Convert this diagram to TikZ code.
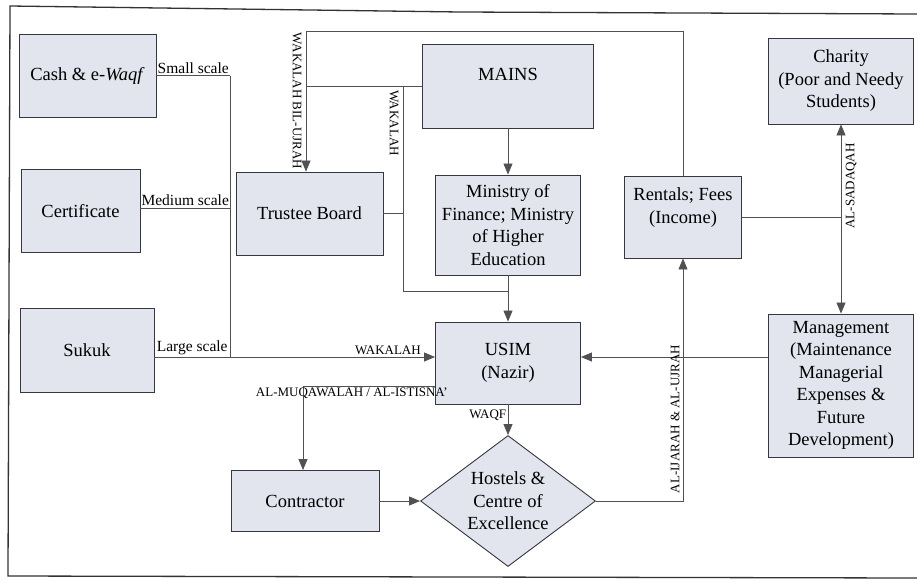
\documentclass[tikz,border=0pt]{standalone}
\usepackage{fontspec}
\setmainfont{LiberationSerif}[Extension=.ttf, UprightFont=*-Regular, ItalicFont=*-Italic, BoldFont=*-Bold, BoldItalicFont=*-BoldItalic]
\usetikzlibrary{arrows.meta,shapes.geometric}
\definecolor{boxfill}{RGB}{226,228,238}
\definecolor{boxline}{RGB}{55,55,65}
\definecolor{wirec}{RGB}{80,80,85}
\newcommand\bxfont{\rmfamily\fontsize{18.5}{22.5}\selectfont}
\newcommand\sclfont{\rmfamily\fontsize{15.5}{17}\selectfont}
\newcommand\lbfont{\rmfamily\fontsize{13}{14}\selectfont}
\begin{document}
\begin{tikzpicture}[x=1pt,y=-1pt,
  box/.style={draw=boxline, fill=boxfill, line width=0.9pt, font=\bxfont, align=center, inner sep=0pt},
  wire/.style={draw=wirec, line width=0.8pt},
  arr/.style={wire, -{Triangle[length=11pt,width=9pt]}},
  darr/.style={wire, {Triangle[length=11pt,width=9pt]}-{Triangle[length=11pt,width=9pt]}},
  lbl/.style={font=\lbfont, inner sep=1.5pt},
  scl/.style={font=\sclfont, inner sep=1.5pt}]
\useasboundingbox (0,0) rectangle (917,581);
% frame
\draw[line width=1.3pt, draw=black!80] (917,14) -- (460,12) -- (10,6) -- (8,576) -- (917,578);

% boxes
\node[box, minimum width=137pt, minimum height=83pt] (cash) at (87.5,75.5) {Cash \& e-\textit{Waqf}};
\node[box, minimum width=119pt, minimum height=83pt] (cert) at (80.5,211) {Certificate};
\node[box, minimum width=134pt, minimum height=84pt] (sukuk) at (87,350) {Sukuk};
\node[box, minimum width=147pt, minimum height=83pt] (trustee) at (309.5,213.5) {Trustee Board};
\node[box, minimum width=171pt, minimum height=84pt] (mains) at (508,86) {MAINS\\\mbox{}};
\node[box, minimum width=145pt, minimum height=100pt] (ministry) at (508,225) {Ministry of\\Finance; Ministry\\of Higher\\Education};
\node[box, minimum width=117pt, minimum height=82pt] (rentals) at (683,217) {Rentals; Fees\\(Income)\\\mbox{}};
\node[box, minimum width=145pt, minimum height=86pt] (charity) at (841,81) {Charity\\(Poor and Needy\\Students)};
\node[box, minimum width=145pt, minimum height=82pt] (usim) at (508,363) {USIM\\(Nazir)};
\node[box, minimum width=145pt, minimum height=143pt] (mgmt) at (841,385.5) {Management\\(Maintenance\\Managerial\\Expenses \&\\Future\\Development)};
\node[box, minimum width=148pt, minimum height=61pt] (contractor) at (305,501) {Contractor};
\node[box, shape=diamond, aspect=1.336, minimum width=175pt, minimum height=131pt] (hostels) at (508,501) {Hostels \&\\Centre of\\Excellence};

% coordinates
\coordinate (busT) at (230,75.5);
\coordinate (busM) at (230,208);
\coordinate (busB) at (230,357);
\coordinate (topR) at (683,31);
\coordinate (topL) at (306,31);
\coordinate (wkTop) at (403,86);
\coordinate (wkBot) at (403,291);
\coordinate (mq) at (303,386);

% scale inputs
\draw[wire] (cash.east) -- node[scl, above] (lsmall) {Small scale} (busT);
\draw[wire] (cert.east |- busM) -- node[scl, above] (lmed) {Medium scale} (busM);
\draw[wire] (sukuk.east |- busB) -- node[scl, above] (llarge) {Large scale} (busB);
\draw[wire] (busT) -- (busB);
\draw[arr] (busB) -- node[lbl, above, pos=0.77] (lwak1) {WAKALAH} (usim.west |- busB);

% wakalah bil-ujrah loop
\draw[arr] (rentals.north) -- (topR) -- (topL) -- (topL |- trustee.north);
\node[lbl, rotate=-90] (lwbu) at (297,101) {WAKALAH BIL-UJRAH};
\draw[wire] (mains.west) -- (topL |- mains.west);

% wakalah to USIM
\draw[wire] (wkTop) -- (wkBot) -- (usim.north |- wkBot);
\node[lbl, rotate=-90] (lwak2) at (394,123) {WAKALAH};
\draw[wire] (trustee.east) -- (trustee.east -| wkTop);

% MAINS -> Ministry -> USIM
\draw[arr] (mains.south) -- (ministry.north);
\draw[arr] (ministry.south) -- (usim.north);

% income to charity / management
\draw[wire] (rentals.east) -- (charity.south |- rentals.east);
\draw[darr] (charity.south) -- (mgmt.north);
\node[lbl, rotate=90] (lsad) at (851,186) {AL-SADAQAH};

% management -> USIM
\draw[arr] (mgmt.west |- busB) -- (usim.east |- busB);

% hostels -> rentals
\draw[arr] (hostels.east) -- (rentals.south |- hostels.east) -- (rentals.south);
\node[lbl, rotate=90] (lija) at (675,419) {AL-IJARAH \& AL-UJRAH};

% USIM -> hostels
\draw[arr] (usim.south) -- node[lbl, left, pos=0.35] (lwaqf) {WAQF} (hostels.north);

% USIM -> contractor
\draw[arr] (usim.west |- mq) -- node[lbl, below, pos=0.63] (lmuq) {AL-MUQAWALAH / AL-ISTISNA'} (mq) -- (mq |- contractor.north);

% contractor -> hostels
\draw[arr] (contractor.east) -- (hostels.west);
\end{tikzpicture}
\end{document}
